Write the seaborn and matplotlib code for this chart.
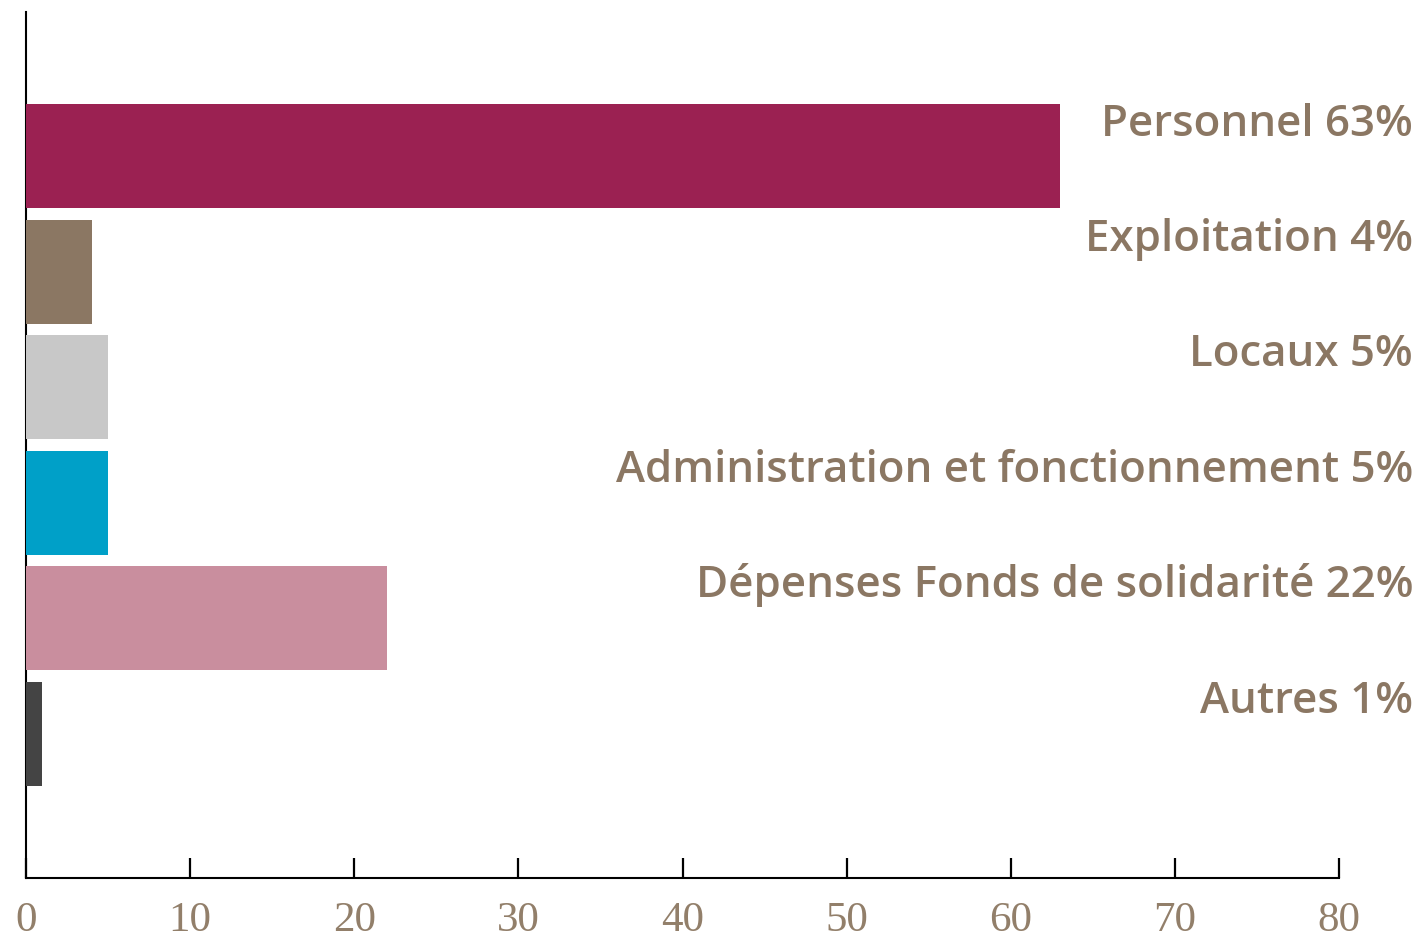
import matplotlib
matplotlib.use("Agg")
import matplotlib.pyplot as plt
import matplotlib.transforms as mtransforms
import seaborn as sns
import pandas as pd

categories = ["Personnel", "Exploitation", "Locaux", "Administration et fonctionnement",
              "Dépenses Fonds de solidarité", "Autres"]
values = [63, 4, 5, 5, 22, 1]
colors = ["#9B2152", "#8B7763", "#C8C8C8", "#00A0C8", "#C98E9E", "#444444"]
xticks = [0, 10, 20, 30, 40, 50, 60, 70, 80]

sns.set_style("white")
plt.rcParams['font.family'] = ['DejaVu Sans']

df = pd.DataFrame({"cat": categories, "val": values})

fig = plt.figure(figsize=(14.2, 9.38), dpi=100)
ax = fig.add_axes([26/1420, 1 - 878/938, (1339-26)/1420, (878-12)/938])

sns.barplot(data=df, x="val", y="cat", hue="cat", palette=colors, orient="h",
            width=0.9, ax=ax, legend=False, zorder=3, saturation=1, linewidth=0)

ax.set_xlim(0, 80)
ax.set_ylim(len(categories) - 1 + 1.25, -1.25)
ax.set_xticks(xticks)
ax.set_xticklabels([str(t) for t in xticks], fontfamily="Liberation Serif",
                   fontsize=31, color="#927F6A")
ax.tick_params(axis="x", bottom=True, direction="in", length=14.5, width=1.6,
               color="black", pad=17)
ax.set_yticks([])
ax.set_xlabel("")
ax.set_ylabel("")
for s in ["top", "right"]:
    ax.spines[s].set_visible(False)
for s in ["left", "bottom"]:
    ax.spines[s].set_color("black")
    ax.spines[s].set_linewidth(1.5)

trans = mtransforms.blended_transform_factory(fig.transFigure, ax.transData)
for i, (c, v) in enumerate(zip(categories, values)):
    ax.text(1413/1420, i - 0.18, f"{c} {v}%", transform=trans, ha="right", va="baseline",
            fontsize=31.6, fontfamily="Open Sans", fontweight="semibold", color="#8B7763",
            clip_on=False)

fig.savefig("out.png", dpi=100)
